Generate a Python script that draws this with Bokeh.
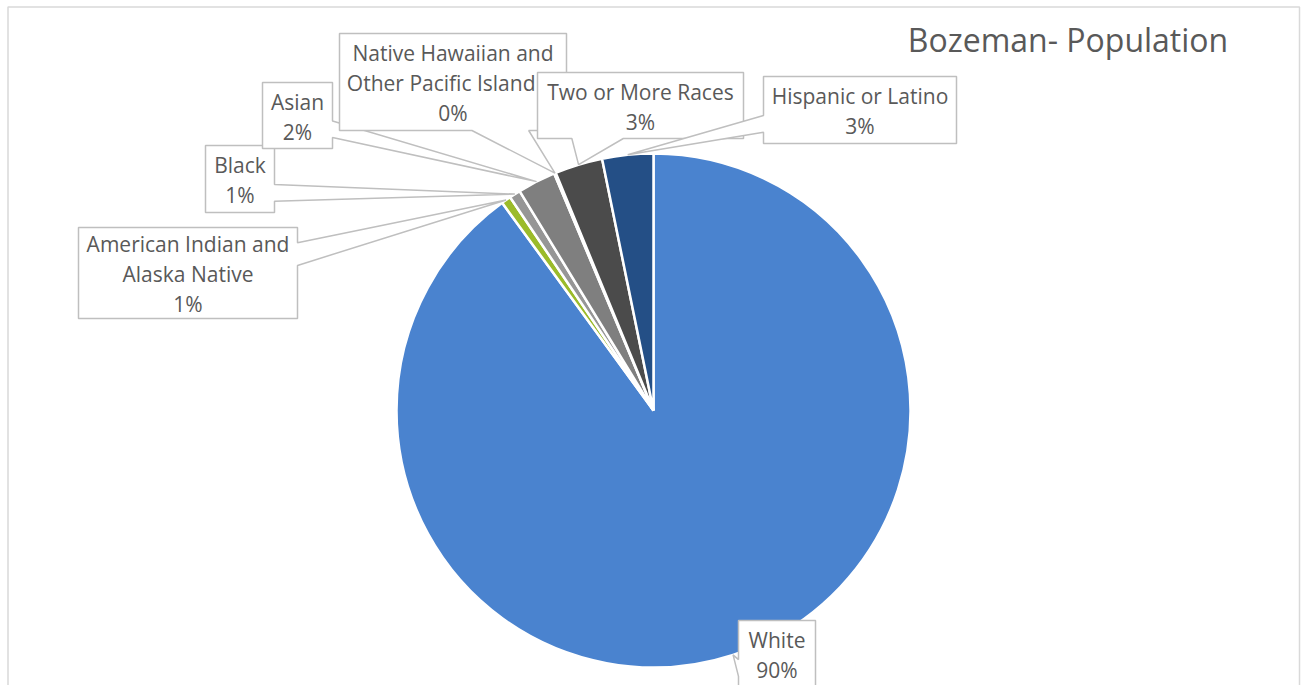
import math
from bokeh.plotting import figure
from bokeh.models import Range1d, ColumnDataSource
from bokeh.embed import file_html
from bokeh.resources import INLINE
from bokeh.core.properties import value

W, H = 1302, 685

# ---------------- data ----------------
title_text = "Bozeman- Population"
categories = [
    "White",
    "American Indian and Alaska Native",
    "Black",
    "Asian",
    "Native Hawaiian and Other Pacific Islander",
    "Two or More Races",
    "Hispanic or Latino",
]
values = [89.8, 0.6, 0.7, 2.4, 0.1, 3.0, 3.2]
label_lines = [
    ["White"],
    ["American Indian and", "Alaska Native"],
    ["Black"],
    ["Asian"],
    ["Native Hawaiian and", "Other Pacific Island"],
    ["Two or More Races"],
    ["Hispanic or Latino"],
]
colors = ["#4A83CF", "#9BBB2A", "#969696", "#7F7F7F", "#BFBFBF", "#4B4B4B", "#244F86"]

# ---------------- layout (page pixels, y downward) ----------------
CX, CY, R = 653, 410, 257
boxes = {
    "White": (738, 620, 815, 687),
    "American Indian and Alaska Native": (78, 227, 297, 318),
    "Black": (205, 145, 274, 212),
    "Asian": (262, 82, 332, 148),
    "Native Hawaiian and Other Pacific Islander": (339, 33, 566, 130),
    "Two or More Races": (537, 72, 743, 138),
    "Hispanic or Latino": (763, 76, 956, 143),
}
# the second line of the NHPI label is clipped by the next box in the original
line_align = {("Native Hawaiian and Other Pacific Islander", 1): ("right", 535)}
LINE_GAP = 30
FONT = "Open Sans"
TEXT_COLOR = "#595959"
BOX_LINE = "#BFBFBF"


def Y(y):
    return H - y


p = figure(width=W, height=H, x_range=Range1d(0, W), y_range=Range1d(0, H),
           toolbar_location=None, output_backend="svg", min_border=0,
           x_axis_location=None, y_axis_location=None,
           background_fill_color="white", border_fill_color="white")
p.grid.visible = False
p.outline_line_color = None

# chart area border
p.quad(left=[7.5], right=[1299], top=[Y(6.5)], bottom=[Y(700)],
       fill_color=None, line_color="#D9D9D9", line_width=1.5)

# pie slices (clockwise from 12 o'clock)
total = sum(values)
starts, ends, mids = [], [], []
acc = 0.0
for v in values:
    t0 = acc / total * 2 * math.pi
    acc += v
    t1 = acc / total * 2 * math.pi
    starts.append(math.pi / 2 - t1)
    ends.append(math.pi / 2 - t0)
    mids.append((t0 + t1) / 2)

src = ColumnDataSource(dict(start=starts, end=ends, color=colors, cat=categories))
p.wedge(x=CX, y=Y(CY), radius=R, start_angle="start", end_angle="end",
        fill_color="color", line_color="white", line_width=2.5, source=src)


def callout(x0, y0, x1, y1, tx, ty):
    w = x1 - x0
    h = y1 - y0
    cx = (x0 + x1) / 2
    cy = (y0 + y1) / 2
    dx = tx - cx
    dy = ty - cy
    if abs(dx) / w > abs(dy) / h:
        f = (7, 10) if dy > 0 else (2, 5)
        ya = y0 + h * f[0] / 12
        yb = y0 + h * f[1] / 12
        if dx < 0:
            pts = [(x0, y0), (x1, y0), (x1, y1), (x0, y1), (x0, yb), (tx, ty), (x0, ya)]
        else:
            pts = [(x0, y0), (x1, y0), (x1, ya), (tx, ty), (x1, yb), (x1, y1), (x0, y1)]
    else:
        f = (7, 10) if dx > 0 else (2, 5)
        xa = x0 + w * f[0] / 12
        xb = x0 + w * f[1] / 12
        if dy > 0:
            pts = [(x0, y0), (x1, y0), (x1, y1), (xb, y1), (tx, ty), (xa, y1), (x0, y1)]
        else:
            pts = [(x0, y0), (xa, y0), (tx, ty), (xb, y0), (x1, y0), (x1, y1), (x0, y1)]
    return [q[0] for q in pts], [Y(q[1]) for q in pts]


for cat, v, lines, m in zip(categories, values, label_lines, mids):
    x0, y0, x1, y1 = boxes[cat]
    tx = CX + R * math.sin(m)
    ty = CY - R * math.cos(m)
    xs, ys = callout(x0, y0, x1, y1, tx, ty)
    p.patch(xs, ys, fill_color="white", line_color=BOX_LINE, line_width=1.5)
    pct = f"{round(v / total * 100)}%"
    all_lines = lines + [pct]
    n = len(all_lines)
    cyb = (y0 + y1) / 2
    first = cyb - (n - 1) * LINE_GAP / 2 + 1.0
    for i, t in enumerate(all_lines):
        align, xpos = line_align.get((cat, i), ("center", (x0 + x1) / 2))
        p.text(x=[xpos], y=[Y(first + i * LINE_GAP)], text=[t], text_font=value(FONT),
               text_font_size="21px", text_color=TEXT_COLOR, text_align=align,
               text_baseline="alphabetic")

# title
p.text(x=[1067.5], y=[Y(39)], text=[title_text], text_font=value(FONT),
       text_font_size="32px", text_color=TEXT_COLOR, text_align="center",
       text_baseline="alphabetic")

open("out.html", "w").write(file_html(p, INLINE))
